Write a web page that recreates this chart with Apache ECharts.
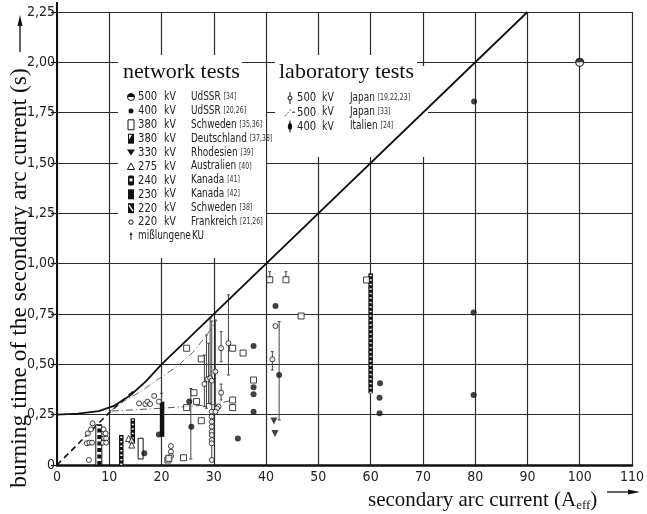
<!DOCTYPE html>
<html>
<head>
<meta charset="utf-8">
<script src="https://cdn.jsdelivr.net/npm/echarts@6/dist/echarts.min.js"></script>
<style>
  html, body { margin: 0; padding: 0; background: #fff; }
  #chart { width: 647px; height: 514px; }
</style>
</head>
<body>
<div id="chart"></div>
<script>
// axes
const xTicks = [0, 10, 20, 30, 40, 50, 60, 70, 80, 90, 100, 110];
const yTicks = [0, 0.25, 0.5, 0.75, 1.0, 1.25, 1.5, 1.75, 2.0, 2.25];

// limit curve and the dashed / dash-dot curves
const boundaryCurve = [[0, 0.25], [4, 0.255], [8, 0.268], [11, 0.295], [14, 0.345], [17, 0.415], [20, 0.5], [90, 2.25]];
const originDashed = [[0, 0], [10, 0.26], [14.5, 0.365]];
const networkDashDot = [[10, 0.265], [13, 0.32], [16, 0.365], [19, 0.42], [23, 0.49], [26, 0.56], [28.5, 0.64], [30.6, 0.72]];
const japanDashDot = [[10.5, 0.268], [20, 0.282], [30, 0.3], [33.7, 0.323]];

// point marks
const openCircles = [
  [6.8, 0.207], [6.5, 0.177], [5.9, 0.157], [5.7, 0.108], [6.2, 0.111], [6.7, 0.111], [6.1, 0.025],
  [8.9, 0.177], [9.3, 0.157], [9.0, 0.132], [9.4, 0.132], [8.8, 0.111], [9.4, 0.111],
  [15.7, 0.306], [16.9, 0.303], [17.3, 0.315], [17.8, 0.303], [18.6, 0.343], [19.5, 0.315],
  [21.8, 0.094], [21.8, 0.066], [21.8, 0.045],
  [29.6, 0.265], [29.6, 0.24], [29.6, 0.215], [29.6, 0.19], [29.6, 0.165], [29.6, 0.149], [29.6, 0.124], [29.6, 0.108], [29.6, 0.025],
  [28.2, 0.402], [28.8, 0.426], [29.3, 0.431], [29.6, 0.419], [30.3, 0.464], [30.9, 0.29], [30.6, 0.281], [30.3, 0.265],
  [31.4, 0.58], [31.4, 0.359], [32.8, 0.605], [41.2, 0.525], [41.8, 0.69]
];
const filledDots = [
  [16.7, 0.058], [19.5, 0.152], [25.3, 0.315], [25.7, 0.19], [34.6, 0.132],
  [37.6, 0.591], [37.6, 0.386], [37.6, 0.351], [37.6, 0.265], [41.8, 0.79], [42.5, 0.447],
  [61.8, 0.406], [61.7, 0.334], [61.7, 0.257], [79.8, 1.805], [79.7, 0.757], [79.7, 0.348]
];
const openSquares = [
  [21.2, 0.025], [21.4, 0.033], [24.2, 0.036], [24.8, 0.58], [27.6, 0.527], [24.8, 0.285],
  [26.2, 0.359], [26.7, 0.315], [27.6, 0.22], [33.6, 0.58], [35.6, 0.556], [33.6, 0.323],
  [33.6, 0.285], [37.6, 0.422], [40.7, 0.92], [43.8, 0.92], [46.7, 0.74], [59.2, 0.919]
];
const openTriangles = [[13.7, 0.132], [14.3, 0.124], [14.3, 0.099]];
const downTriangles = [[41.5, 0.219], [41.7, 0.157]];
const halfCircles = [[100, 2.0]];

// vertical ranges: [x, low, high]
const errorBars = [
  [25.6, 0.03, 0.38], [28.2, 0.29, 0.546], [28.6, 0.282, 0.646], [29.0, 0.306, 0.605],
  [29.3, 0.306, 0.729], [29.6, 0.025, 0.715], [30.3, 0.29, 0.72], [31.4, 0.513, 0.662],
  [31.4, 0.323, 0.402], [32.8, 0.447, 0.845], [41.2, 0.472, 0.563], [42.5, 0.224, 0.712],
  [40.7, 0.93, 0.96], [43.8, 0.93, 0.96], [20.0, 0.31, 0.356]
];
const rangeBars = [[8.0, 0, 0.2], [12.3, 0, 0.149], [14.5, 0.108, 0.232], [16.0, 0.03, 0.133], [20.1, 0.14, 0.315], [60.0, 0.356, 0.952]];
const rangeBarKinds = ['dash', 'hatch', 'hatch', 'open', 'solid', 'hatch'];

// legend rows
const networkRows = [
  ['500', 'UdSSR', '[34]', 'halfCircle'],
  ['400', 'UdSSR', '[20,26]', 'dot'],
  ['380', 'Schweden', '[35,36]', 'openRect'],
  ['380', 'Deutschland', '[37,38]', 'halfRect'],
  ['330', 'Rhodesien', '[39]', 'downTri'],
  ['275', 'Australien', '[40]', 'openTri'],
  ['240', 'Kanada', '[41]', 'ringRect'],
  ['230', 'Kanada', '[42]', 'solidRect'],
  ['220', 'Schweden', '[38]', 'hatchRect'],
  ['220', 'Frankreich', '[21,26]', 'smallCircle']
];
const labRows = [
  ['500', 'Japan', '[19,22,23]', 'errCircle'],
  ['500', 'Japan', '[33]', 'dashDot'],
  ['400', 'Italien', '[24]', 'errDot']
];

const sans = '"DejaVu Sans Condensed", "DejaVu Sans", sans-serif';
const serif = '"Liberation Serif", "DejaVu Serif", serif';
const ink = '#111';

function legendSymbol(kind, cx, cy) {
  const s = { stroke: ink, lineWidth: 1, fill: '#fff' };
  const f = { fill: ink };
  switch (kind) {
    case 'halfCircle': return [
      { type: 'circle', shape: { cx, cy, r: 3.5 }, style: s },
      { type: 'sector', shape: { cx, cy, r: 3.5, startAngle: Math.PI, endAngle: 2 * Math.PI }, style: f }];
    case 'dot': return [{ type: 'circle', shape: { cx, cy, r: 2.5 }, style: f }];
    case 'openRect': return [{ type: 'rect', shape: { x: cx - 3, y: cy - 5, width: 6, height: 10 }, style: s }];
    case 'halfRect': return [
      { type: 'rect', shape: { x: cx - 3, y: cy - 5, width: 6, height: 10 }, style: f },
      { type: 'polygon', shape: { points: [[cx - 2, cy - 4], [cx + 1, cy - 4], [cx - 2, cy + 1]] }, style: { fill: '#fff' } }];
    case 'downTri': return [{ type: 'polygon', shape: { points: [[cx - 4, cy - 3], [cx + 4, cy - 3], [cx, cy + 3]] }, style: f }];
    case 'openTri': return [{ type: 'polygon', shape: { points: [[cx - 3.5, cy + 3], [cx + 3.5, cy + 3], [cx, cy - 3.5]] }, style: s }];
    case 'ringRect': return [
      { type: 'rect', shape: { x: cx - 3, y: cy - 5, width: 6, height: 10, r: 1.5 }, style: f },
      { type: 'rect', shape: { x: cx - 1.5, y: cy - 2, width: 3, height: 3 }, style: { fill: '#fff' } }];
    case 'solidRect': return [{ type: 'rect', shape: { x: cx - 3, y: cy - 5, width: 6, height: 10 }, style: f }];
    case 'hatchRect': return [
      { type: 'rect', shape: { x: cx - 3, y: cy - 5, width: 6, height: 10 }, style: f },
      { type: 'line', shape: { x1: cx - 2, y1: cy - 3, x2: cx + 2, y2: cy + 3 }, style: { stroke: '#fff', lineWidth: 1.3 } }];
    case 'smallCircle': return [{ type: 'circle', shape: { cx, cy, r: 2.2 }, style: s }];
    case 'arrow': return [
      { type: 'line', shape: { x1: cx, y1: cy + 4, x2: cx, y2: cy - 2 }, style: { stroke: ink, lineWidth: 1 } },
      { type: 'polygon', shape: { points: [[cx - 1.5, cy - 1], [cx + 1.5, cy - 1], [cx, cy - 4]] }, style: f }];
    case 'errCircle': return [
      { type: 'line', shape: { x1: cx, y1: cy - 6, x2: cx, y2: cy + 6 }, style: { stroke: ink, lineWidth: 1 } },
      { type: 'circle', shape: { cx, cy, r: 2 }, style: s }];
    case 'dashDot': return [
      { type: 'line', shape: { x1: cx - 5, y1: cy + 4, x2: cx + 1, y2: cy - 3 }, style: { stroke: '#555', lineWidth: 1, lineDash: [2, 1.5] } },
      { type: 'line', shape: { x1: cx + 2, y1: cy, x2: cx + 5, y2: cy }, style: { stroke: ink, lineWidth: 1 } }];
    case 'errDot': return [
      { type: 'line', shape: { x1: cx, y1: cy - 6, x2: cx, y2: cy + 6 }, style: { stroke: ink, lineWidth: 1 } },
      { type: 'ellipse', shape: { cx, cy, rx: 2.2, ry: 3.5 }, style: f }];
  }
  return [];
}

const graphics = [];
// white legend areas over the grid
[[118, 55, 124, 12], [118, 66, 148, 192], [275, 55, 142, 12], [275, 66, 153, 91]].forEach(r => {
  graphics.push({ type: 'rect', z: 1, silent: true, shape: { x: r[0], y: r[1], width: r[2], height: r[3] }, style: { fill: '#fff' } });
});
graphics.push({ type: 'text', z: 10, x: 123, y: 72, style: { text: 'network tests', font: '22px ' + serif, fill: ink, textVerticalAlign: 'middle' } });
graphics.push({ type: 'text', z: 10, x: 279, y: 72, style: { text: 'laboratory tests', font: '22px ' + serif, fill: ink, textVerticalAlign: 'middle' } });

const rich = {
  n: { fontFamily: sans, fontSize: 11.5, fill: '#222' },
  r: { fontFamily: sans, fontSize: 8, fill: '#333' }
};
function legendText(x, y, text, size) {
  return { type: 'text', z: 10, x, y, scaleX: 0.86,
    style: { text, font: size + 'px ' + sans, fill: '#222', textVerticalAlign: 'middle' } };
}
networkRows.forEach((row, i) => {
  const cy = 97 + i * 13.9;
  legendSymbol(row[3], 131, cy).forEach(el => { el.z = 10; graphics.push(el); });
  graphics.push(legendText(138, cy, row[0], 13));
  graphics.push(legendText(164, cy, 'kV', 12));
  graphics.push({ type: 'text', z: 10, x: 191, y: cy, scaleX: 0.86, style: { text: '{n|' + row[1] + '} {r|' + row[2] + '}', rich, textVerticalAlign: 'middle' } });
});
{
  const cy = 97 + 10 * 13.9;
  legendSymbol('arrow', 131, cy).forEach(el => { el.z = 10; graphics.push(el); });
  graphics.push(legendText(138, cy, 'mißlungene', 11.5));
  graphics.push(legendText(192, cy, 'KU', 11.5));
}
labRows.forEach((row, i) => {
  const cy = 98 + i * 14.2;
  legendSymbol(row[3], 290, cy).forEach(el => { el.z = 10; graphics.push(el); });
  graphics.push(legendText(297, cy, row[0], 13));
  graphics.push(legendText(322, cy, 'kV', 12));
  graphics.push({ type: 'text', z: 10, x: 350, y: cy, scaleX: 0.86, style: { text: '{n|' + row[1] + '} {r|' + row[2] + '}', rich, textVerticalAlign: 'middle' } });
});

// axis titles and arrows
graphics.push({ type: 'text', z: 10, x: 20, y: 278, rotation: Math.PI / 2,
  style: { text: 'burning time of the secondary arc current (s)', font: '23.5px ' + serif, fill: ink, textAlign: 'center', textVerticalAlign: 'middle' } });
graphics.push({ type: 'line', z: 10, shape: { x1: 20, y1: 52, x2: 20, y2: 24 }, style: { stroke: ink, lineWidth: 1.3 } });
graphics.push({ type: 'polygon', z: 10, shape: { points: [[17.5, 26], [22.5, 26], [20, 15]] }, style: { fill: ink } });
graphics.push({ type: 'text', z: 10, x: 368, y: 500, style: {
  text: '{a|secondary arc current (A}{b|eff}{a|)}',
  rich: { a: { fontFamily: serif, fontSize: 21, fill: ink }, b: { fontFamily: serif, fontSize: 13, fill: ink, padding: [12, 0, 0, 0] } },
  textVerticalAlign: 'middle' } });
graphics.push({ type: 'line', z: 10, shape: { x1: 607, y1: 492, x2: 630, y2: 492 }, style: { stroke: ink, lineWidth: 1.3 } });
graphics.push({ type: 'polygon', z: 10, shape: { points: [[628, 489.5], [628, 494.5], [640, 492]] }, style: { fill: ink } });
// y axis runs a little past 2,25
graphics.push({ type: 'line', z: 10, shape: { x1: 57, y1: 2, x2: 57, y2: 13 }, style: { stroke: ink, lineWidth: 2 } });

const chart = echarts.init(document.getElementById('chart'));

const openStyle = { color: '#fff', borderColor: ink, borderWidth: 1 };

chart.setOption({
  animation: false,
  backgroundColor: '#fff',
  grid: { left: 57, right: 4, top: 12, bottom: 49 },
  xAxis: {
    type: 'value', min: xTicks[0], max: xTicks[xTicks.length - 1], interval: 10,
    axisLine: { lineStyle: { color: ink, width: 2.5 } },
    axisTick: { show: false },
    splitLine: { lineStyle: { color: '#2a2a2a', width: 1.2 } },
    axisLabel: { fontFamily: sans, fontSize: 14, color: '#222', margin: 5 }
  },
  yAxis: {
    type: 'value', min: yTicks[0], max: yTicks[yTicks.length - 1], interval: 0.25,
    axisLine: { show: true, lineStyle: { color: ink, width: 2 } },
    axisTick: { show: true, length: 6, lineStyle: { color: ink, width: 1.2 } },
    splitLine: { lineStyle: { color: '#2a2a2a', width: 1.2 } },
    axisLabel: { fontFamily: sans, fontSize: 14, color: '#222', margin: 2,
      formatter: v => v === 0 ? '0' : v.toFixed(2).replace('.', ',') }
  },
  graphic: graphics,
  series: [
    { type: 'line', data: boundaryCurve, symbol: 'none', z: 3, lineStyle: { color: ink, width: 1.8 } },
    { type: 'line', data: originDashed, symbol: 'none', z: 3, lineStyle: { color: ink, width: 1.6, type: [6, 4] } },
    { type: 'line', data: networkDashDot, symbol: 'none', z: 3, lineStyle: { color: '#666', width: 1, type: [7, 3, 1, 3] } },
    { type: 'line', data: japanDashDot, symbol: 'none', z: 3, lineStyle: { color: '#555', width: 1, type: [7, 3, 1, 3] } },
    {
      type: 'custom', z: 3, data: errorBars,
      renderItem: (params, api) => {
        const x = api.value(0);
        const lo = api.coord([x, api.value(1)]);
        const hi = api.coord([x, api.value(2)]);
        return { type: 'group', children: [
          { type: 'line', shape: { x1: lo[0], y1: lo[1], x2: hi[0], y2: hi[1] }, style: { stroke: '#444', lineWidth: 1 } },
          { type: 'line', shape: { x1: lo[0] - 1.5, y1: lo[1], x2: lo[0] + 1.5, y2: lo[1] }, style: { stroke: '#444', lineWidth: 1 } },
          { type: 'line', shape: { x1: hi[0] - 1.5, y1: hi[1], x2: hi[0] + 1.5, y2: hi[1] }, style: { stroke: '#444', lineWidth: 1 } }
        ] };
      }
    },
    {
      type: 'custom', z: 4, data: rangeBars,
      renderItem: (params, api) => {
        const kind = rangeBarKinds[params.dataIndex];
        const x = api.value(0);
        const lo = api.coord([x, api.value(1)]);
        const hi = api.coord([x, api.value(2)]);
        const w = kind === 'dash' ? 6 : (kind === 'open' ? 5 : 4.5);
        const rect = { x: lo[0] - w / 2, y: hi[1], width: w, height: lo[1] - hi[1] };
        const kids = [];
        if (kind === 'open') {
          kids.push({ type: 'rect', shape: rect, style: { fill: '#fff', stroke: ink, lineWidth: 1 } });
        } else if (kind === 'solid') {
          kids.push({ type: 'rect', shape: rect, style: { fill: ink } });
        } else if (kind === 'dash') {
          kids.push({ type: 'rect', shape: rect, style: { fill: '#fff', stroke: ink, lineWidth: 1 } });
          kids.push({ type: 'line', shape: { x1: lo[0] + 0.5, y1: lo[1], x2: lo[0] + 0.5, y2: hi[1] }, style: { stroke: ink, lineWidth: 4, lineDash: [4, 2.5] } });
        } else {
          kids.push({ type: 'rect', shape: rect, style: { fill: ink } });
          kids.push({ type: 'line', shape: { x1: lo[0], y1: lo[1], x2: lo[0], y2: hi[1] }, style: { stroke: '#fff', lineWidth: 2, lineDash: [1.5, 3] } });
        }
        return { type: 'group', children: kids };
      }
    },
    { type: 'scatter', data: openCircles, z: 5, symbol: 'circle', symbolSize: 5, itemStyle: openStyle },
    { type: 'scatter', data: openSquares, z: 5, symbol: 'rect', symbolSize: [6, 6], itemStyle: openStyle },
    { type: 'scatter', data: openTriangles, z: 5, symbol: 'triangle', symbolSize: 6, itemStyle: openStyle },
    { type: 'scatter', data: downTriangles, z: 5, symbol: 'triangle', symbolRotate: 180, symbolSize: 7, itemStyle: { color: ink } },
    { type: 'scatter', data: filledDots, z: 5, symbol: 'circle', symbolSize: 6, itemStyle: { color: ink } },
    { type: 'scatter', data: halfCircles, z: 5, symbol: 'circle', symbolSize: 8, itemStyle: { color: '#fff', borderColor: ink, borderWidth: 1.2 } },
    { type: 'scatter', data: halfCircles, z: 6, symbol: 'path://M0,5A5,5 0 0 1 10,5Z', symbolSize: [8, 4], symbolOffset: [0, -2], itemStyle: { color: ink } }
  ]
});
</script>
</body>
</html>
